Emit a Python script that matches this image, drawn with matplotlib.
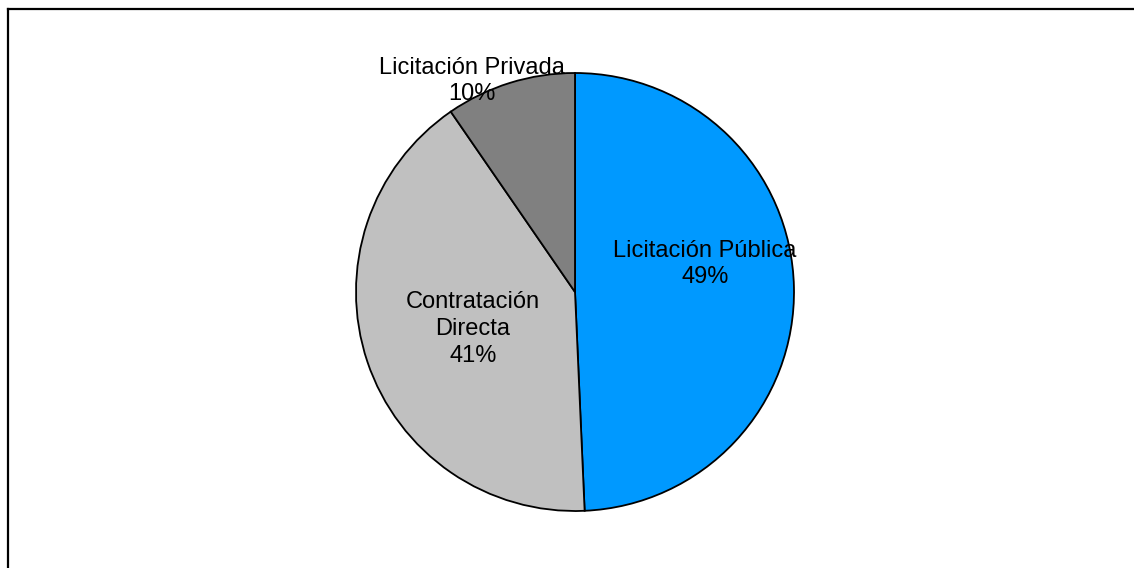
import matplotlib.pyplot as plt

plt.rcParams['font.family'] = ['Liberation Sans', 'DejaVu Sans']

# data
labels = ['Licitación Pública', 'Contratación\nDirecta', 'Licitación Privada']
values = [49.3, 41.1, 9.6]
colors = ['#0099FF', '#C0C0C0', '#808080']

W, H = 1134, 568
fig = plt.figure(figsize=(W / 100, H / 100), dpi=100)
ax = fig.add_axes([0, 0, 1, 1])

cx, cy, r = 575, H - 292, 219
wedges, _ = ax.pie(values, colors=colors, startangle=90, counterclock=False,
                   center=(cx, cy), radius=r, frame=True,
                   wedgeprops=dict(edgecolor='black', linewidth=1.3))
ax.set_xlim(0, W)
ax.set_ylim(0, H)
ax.set_aspect('equal')
ax.axis('off')

# label positions (pixels from top-left)
label_pos = [(705, 264), (473, 329), (472, 81)]
for lab, v, (x, y) in zip(labels, values, label_pos):
    ax.text(x, H - y, f'{lab}\n{round(v):.0f}%', ha='center', va='center',
            fontsize=17, multialignment='center', linespacing=1.27)

# frame of the chart area (only top and left visible)
ax.plot([8, W + 5], [H - 9, H - 9], color='black', lw=1.6, clip_on=False)
ax.plot([8, 8], [H - 9, -5], color='black', lw=1.6, clip_on=False)

fig.savefig('out.png', dpi=100, facecolor='white')
